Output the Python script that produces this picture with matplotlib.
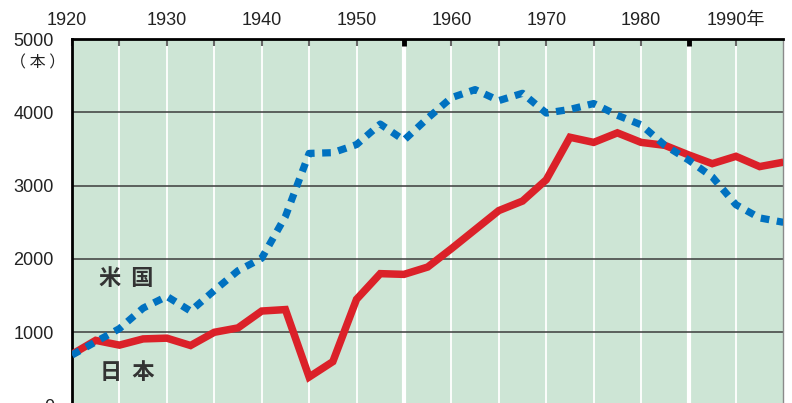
"""Japan vs USA line chart, 1920-1995 (recreated)."""

import matplotlib

matplotlib.use("Agg")
import matplotlib.pyplot as plt
import matplotlib.transforms as mtransforms
import numpy as np

plt.rcParams["font.family"] = ["Liberation Sans", "Noto Sans CJK JP"]

years = np.arange(1920, 1995.1, 2.5)

japan = [700, 890, 825, 910, 920, 820, 1000, 1060, 1290, 1310,
         390, 600, 1450, 1800, 1790, 1890, 2140, 2400, 2660, 2790,
         3080, 3660, 3590, 3720, 3590, 3550, 3420, 3300, 3400, 3260,
         3320]
usa = [690, 870, 1050, 1330, 1490, 1290, 1570, 1840, 2010, 2580,
       3440, 3450, 3560, 3840, 3620, 3920, 4200, 4310, 4160, 4260,
       3990, 4040, 4120, 3960, 3830, 3550, 3350, 3120, 2740, 2560,
       2500]

x_labels = ["1920", "1930", "1940", "1950", "1960", "1970", "1980", "1990年"]
x_label_years = [1920, 1930, 1940, 1950, 1960, 1970, 1980, 1990]
era_marks = [1955, 1985]
y_ticks = [0, 1000, 2000, 3000, 4000, 5000]

GREEN = "#cde5d5"
RED = "#db2129"
BLUE = "#0071c0"
TEXT = "#222222"

fig = plt.figure(figsize=(7.92, 4.03), dpi=100)
ax = fig.add_axes([0.0909, -0.0065, 0.8982, 0.9097])
ax.set_facecolor(GREEN)
ax.set_xlim(1920, 1995)
ax.set_ylim(0, 5000)

# white vertical grid every 5 years, wider at era marks
for yr in np.arange(1925, 1995, 5):
    lw = 3.0 if yr in era_marks else 1.3
    ax.axvline(yr, color="white", lw=lw, zorder=1)
for val in y_ticks[1:-1]:
    ax.axhline(val, color="#3c3c3c", lw=1.1, zorder=1.5)

ax.plot(years, japan, color=RED, lw=5.4, solid_joinstyle="miter",
        solid_capstyle="butt", zorder=3)
ax.plot(years, usa, color=BLUE, lw=5.2, linestyle=(0, (1.2, 1.05)),
        dash_capstyle="butt", zorder=4)

# thick black marks on the top border
ax.plot(era_marks, [5000] * len(era_marks), linestyle="none", marker=3,
        markersize=5, markeredgewidth=3.5, color="black", clip_on=False,
        zorder=6)

ax.xaxis.tick_top()
ax.set_xticks(x_label_years)
ax.set_xticklabels(x_labels)
ax.set_xticks(np.arange(1925, 1995, 5), minor=True)
ax.tick_params(axis="x", which="both", direction="in", length=5, width=1.5,
               color="#666666", pad=7, labelsize=13, labelcolor=TEXT)
ax.set_yticks(y_ticks)
ax.tick_params(axis="y", length=0, pad=13, labelsize=13, labelcolor=TEXT)

# first year label sits a little left of the corner
first = ax.get_xticklabels()[0]
first.set_transform(first.get_transform()
                    + mtransforms.ScaledTranslation(-0.05, 0, fig.dpi_scale_trans))

for side in ("left", "top"):
    ax.spines[side].set_linewidth(2.0)
    ax.spines[side].set_color("black")
ax.spines["right"].set_color("#8a8a8a")
ax.spines["right"].set_linewidth(1.0)
ax.spines["bottom"].set_visible(False)

fig.text(38 / 792, 1 - 63 / 403, "（ 本 ）", ha="center", va="center",
         fontsize=11.5, color=TEXT, family=["Noto Sans CJK JP"])
ax.text(1925.7, 1740, "米  国", ha="center", va="center", fontsize=16,
        fontweight="bold", color="#333333", family=["Noto Sans CJK JP"],
        zorder=5)
ax.text(1925.8, 445, "日  本", ha="center", va="center", fontsize=16,
        fontweight="bold", color="#333333", family=["Noto Sans CJK JP"],
        zorder=5)

fig.savefig("out.png", dpi=100)
